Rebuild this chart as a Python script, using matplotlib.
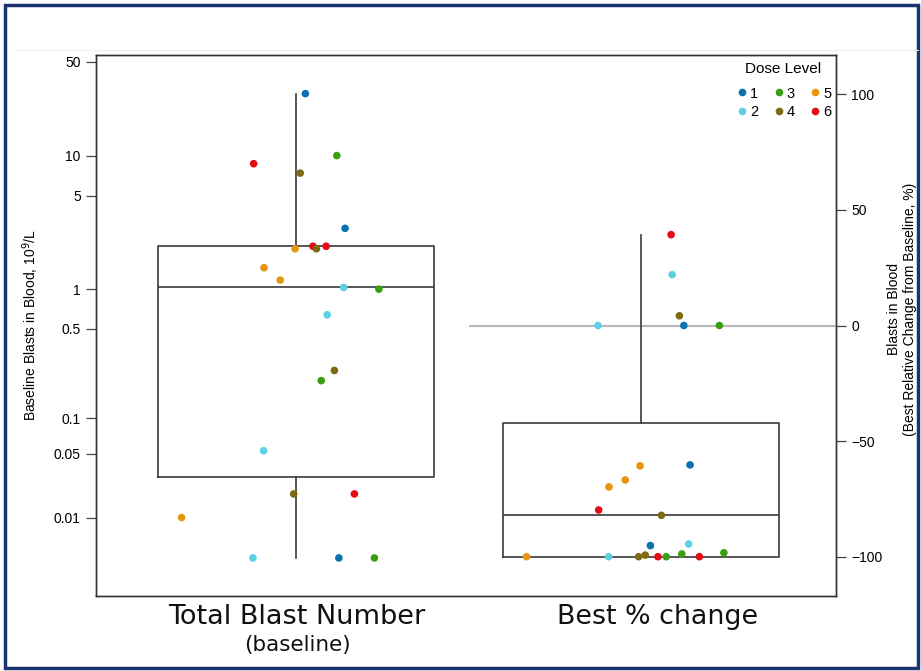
import numpy as np
import matplotlib
matplotlib.use("Agg")
import matplotlib.pyplot as plt
from matplotlib.lines import Line2D
from matplotlib.patches import Rectangle

# ---------------- data ----------------
dose_levels = [1, 2, 3, 4, 5, 6]
dose_colors = ["#0a72b0", "#5dd0e4", "#3a9e12", "#7f6a14", "#e6960e", "#e60a14"]

# one entry per patient
patient_dose = [1, 3, 6, 4, 1, 5, 6, 4, 6, 5, 5, 2, 3, 2, 4, 3, 2, 4, 6, 5, 2, 1, 3]
baseline_blasts = [29, 10, 8.7, 7.4, 2.86, 2.01, 2.10, 2.01, 2.10, 1.45, 1.17, 1.03,
                   1.0, 0.64, 0.24, 0.20, 0.053, 0.020, 0.020, 0.010, 0, 0, 0]
best_change = [-95.2, -98.8, -79.8, -99.3, -60.3, -60.7, -100, -82.1, 39.3, -69.8,
               -66.8, -94.5, -98.3, 22.0, 4.2, -100, -100, -100, -100, -100, 0, 0, 0]
jitter = [0.027, 0.118, -0.123, 0.012, 0.142, -0.003, 0.049, 0.059, 0.087, -0.093,
          -0.046, 0.138, 0.240, 0.090, 0.111, 0.073, -0.094, -0.007, 0.169, -0.332,
          -0.125, 0.124, 0.227]

# box statistics as drawn
box_baseline = dict(whislo=0.0, q1=0.030, med=1.035, q3=2.10, whishi=29.0)
box_change = dict(whislo=-100.0, q1=-100.0, med=-82.1, q3=-42.0, whishi=39.3)

group_labels = ["Total Blast Number", "Best % change"]

# ---------------- figure ----------------
plt.rcParams["font.family"] = ["Liberation Sans", "DejaVu Sans"]
W, H = 921, 671
fig = plt.figure(figsize=(W / 100, H / 100), dpi=100)

def fx(px):
    return px / W

def fy(py):
    return 1 - py / H

ax = fig.add_axes([fx(96), fy(596), fx(836) - fx(96), fy(55) - fy(596)])

off = 0.01
ax.set_yscale("function", functions=(lambda v: np.log10(np.maximum(v + off, 1e-9)),
                                     lambda t: 10 ** t - off))
ax.set_ylim(-0.0048, 56.3)
ax.set_xlim(0.42, 2.565)

ax2 = ax.twinx()
ax2.set_ylim(-117, 117)
ax2.set_xlim(0.42, 2.565)

box_kw = dict(widths=0.8, showfliers=False, showcaps=False, patch_artist=False,
              boxprops=dict(color="#3a3a3a", linewidth=1.2),
              whiskerprops=dict(color="#3a3a3a", linewidth=1.2),
              medianprops=dict(color="#3a3a3a", linewidth=1.2))
s1 = dict(box_baseline, label="")
s2 = dict(box_change, label="")
ax.bxp([s1], positions=[1], **box_kw)
ax2.bxp([s2], positions=[2], **box_kw)

# zero reference line for % change
ax2.hlines(0, 1.5, 2.565, color="#b8b8b8", linewidth=1.5, zorder=1)

cmap = dict(zip(dose_levels, dose_colors))
cols = [cmap[d] for d in patient_dose]
jit = np.array(jitter)
ax.scatter(1 + jit, baseline_blasts, s=30, c=cols, edgecolors="none", zorder=5, clip_on=False)
ax2.scatter(2 + jit, best_change, s=30, c=cols, edgecolors="none", zorder=5, clip_on=False)

# axes styling
ax.set_yticks([0.01, 0.05, 0.1, 0.5, 1, 5, 10, 50])
ax.set_yticklabels(["0.01", "0.05", "0.1", "0.5", "1", "5", "10", "50"])
ax.yaxis.set_minor_locator(matplotlib.ticker.NullLocator())
ax.set_xticks([])
ax.tick_params(axis="y", length=7, width=0.9, color="#444444", labelsize=10, pad=4)
ax2.set_yticks([-100, -50, 0, 50, 100])
ax2.tick_params(axis="y", length=7, width=0.9, color="#444444", labelsize=10, pad=4)
ax2.set_xticks([])
for a in (ax, ax2):
    for sp in a.spines.values():
        sp.set_color("#333333")
        sp.set_linewidth(1.0)

ax.set_ylabel("Baseline Blasts in Blood, 10$^9$/L", fontsize=10)
ax.yaxis.set_label_coords(-0.0745, 0.5)
ax2.set_ylabel("Blasts in Blood\n(Best Relative Change from Baseline, %)", fontsize=10,
               rotation=90, linespacing=1.15)
ax2.yaxis.set_label_coords(1.069, 0.53)

# legend
handles = [Line2D([], [], marker="o", linestyle="none", markersize=5.5,
                  markerfacecolor=c, markeredgecolor="none", label=str(d))
           for d, c in zip(dose_levels, dose_colors)]
leg = ax2.legend(handles=handles, ncol=3, loc="upper right",
                 bbox_to_anchor=(0.998, 0.947), frameon=False, fontsize=10.5,
                 handletextpad=0.15, columnspacing=1.0, handlelength=0.8,
                 labelspacing=0.3, borderaxespad=0.0, borderpad=0.2)
ax2.text(0.928, 0.974, "Dose Level", transform=ax2.transAxes, ha="center",
         va="center", fontsize=11)

# category labels under the plot
fig.text(fx(297), fy(617), group_labels[0], ha="center", va="center",
         fontsize=19.5, family="DejaVu Sans", color="#111111")
fig.text(fx(297), fy(645), "(baseline)", ha="center", va="center",
         fontsize=15.5, family="DejaVu Sans", color="#111111")
fig.text(fx(657), fy(617), group_labels[1], ha="center", va="center",
         fontsize=19.4, family="DejaVu Sans", color="#111111")

# slide frame
fig.add_artist(Rectangle((fx(5), fy(668)), fx(918) - fx(5), fy(5) - fy(668),
                         transform=fig.transFigure, fill=False,
                         edgecolor="#1c3370", linewidth=2.5))
fig.add_artist(Line2D([fx(14), fx(918)], [fy(50), fy(50)], transform=fig.transFigure,
                      color="#ededed", linewidth=0.8))

fig.savefig("out.png", dpi=100)
